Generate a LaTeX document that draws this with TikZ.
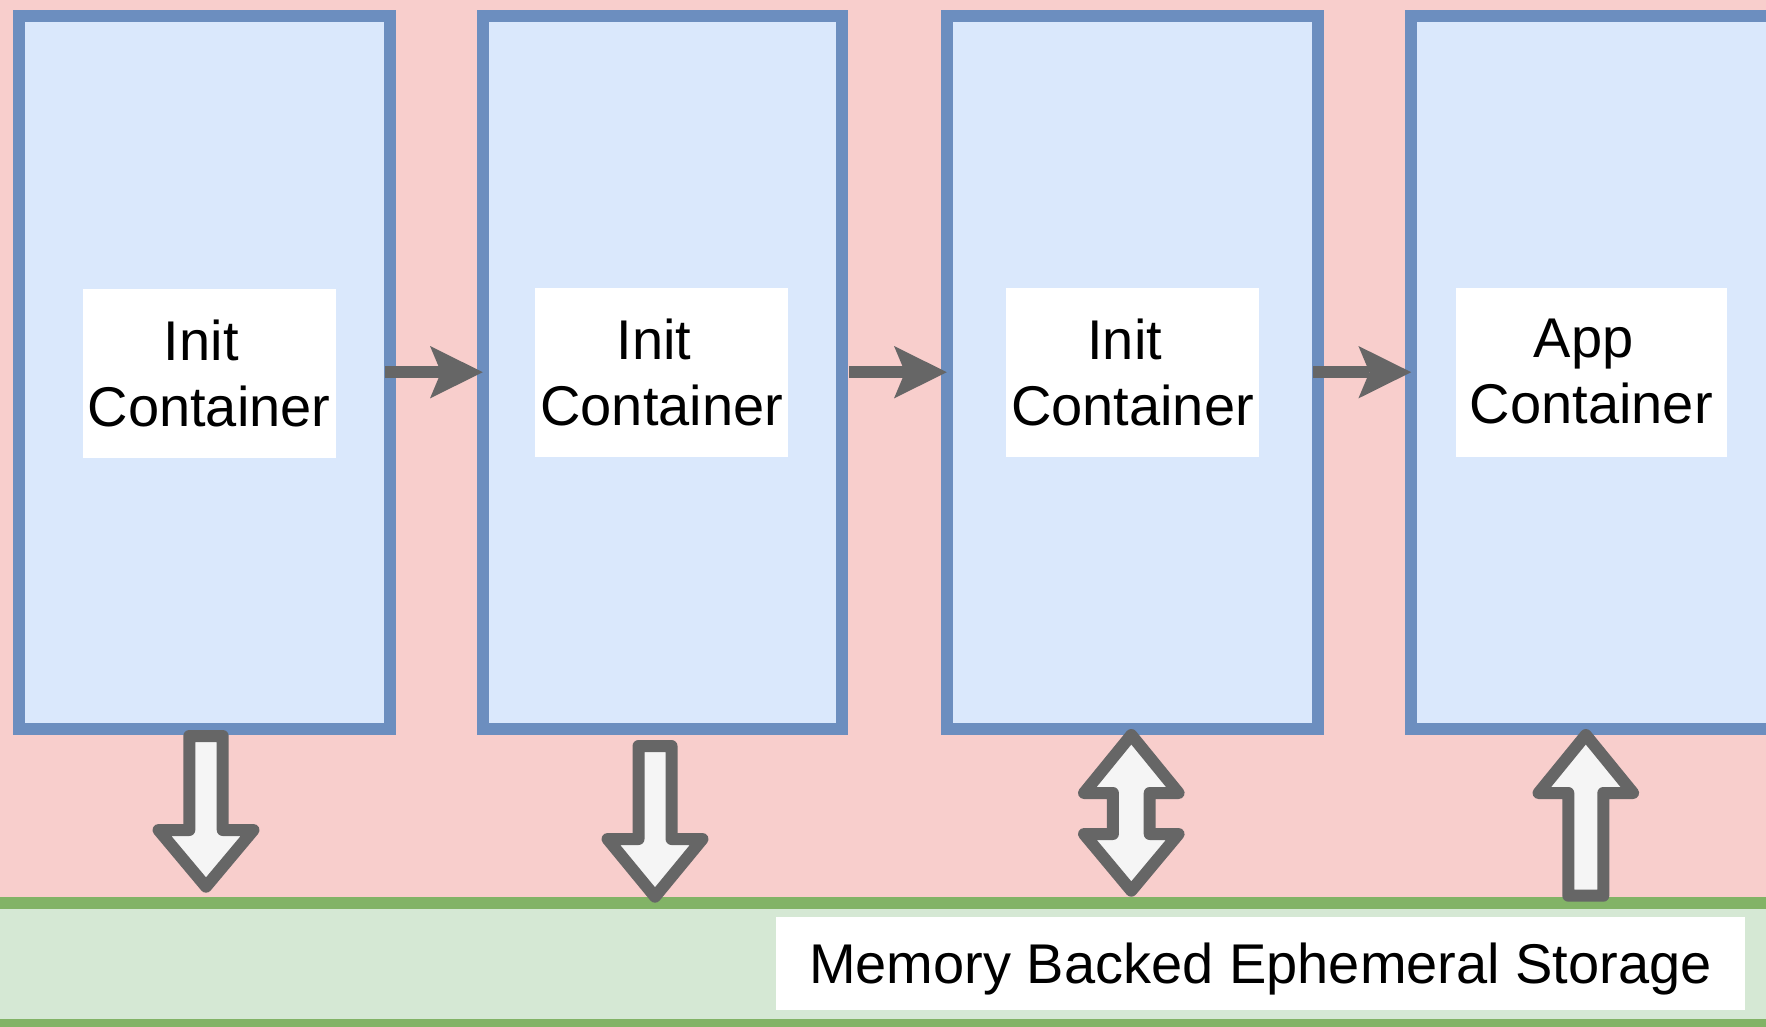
\documentclass[tikz,border=0pt]{standalone}
\usepackage{fontspec}
\setmainfont{Liberation Sans}
\usetikzlibrary{arrows.meta}
\definecolor{podbg}{HTML}{F8CECC}
\definecolor{boxfill}{HTML}{DAE8FC}
\definecolor{boxline}{HTML}{6C8EBF}
\definecolor{storefill}{HTML}{D5E8D4}
\definecolor{storeline}{HTML}{82B366}
\definecolor{arrowline}{HTML}{666666}
\definecolor{arrowfill}{HTML}{F5F5F5}
\begin{document}
\begin{tikzpicture}[x=0.5pt,y=-0.5pt,
  container/.style={draw=boxline, fill=boxfill, line width=6pt,
    minimum width=185.5pt, minimum height=356.6pt, inner sep=0pt, outer sep=0pt},
  namebox/.style={fill=white, inner sep=0pt, minimum width=126.5pt,
    minimum height=84.5pt, align=center, font=\fontsize{28pt}{33pt}\selectfont},
  flow/.style={draw=arrowline, line width=5.85pt,
    -{Stealth[length=26.4pt,width=26.2pt,inset=5.5pt,line width=0pt]}},
  blockarrow/.style={draw=arrowline, fill=arrowfill, line width=6pt, line join=round},
  storagebar/.style={draw=storeline, fill=storefill, line width=6pt,
    inner sep=0pt, outer sep=0pt},
]
\useasboundingbox (0,0) rectangle (1766,1027);
\clip (0,0) rectangle (1766,1027);

% pod background
\fill[podbg] (0,0) rectangle (1766,1027);

% containers, run left to right
\node[container] (c1) at (204.3,372.2) {};
\node[container, minimum width=179.7pt] (c2) at (662.5,372.2) {};
\node[container] (c3) at (1132.3,372.2) {};
\node[container] (c4) at (1596.7,372.2) {};

\node[namebox] (l1) at (209,373.5) {Init\kern0.278em\\Container};
\node[namebox] (l2) at (661.7,372.8) {Init\kern0.278em\\Container};
\node[namebox] (l3) at (1132.5,372.8) {Init\kern0.278em\\Container};
\node[namebox, minimum width=135.35pt] (l4) at (1591.3,372) {App\kern0.278em\\Container};

% start order
\draw[flow, shorten <=-2.4pt] (c1.east) -- (c2.west);
\draw[flow, shorten <=3.4pt] (c2.east) -- (c3.west);
\draw[flow, shorten <=-2.4pt] (c3.east) -- (c4.west);

% shared storage
\node[storagebar, minimum width=903pt, minimum height=61pt] (store) at (883,963.5) {};
\node[fill=white, inner sep=0pt, minimum width=484.5pt, minimum height=46.65pt,
  text height=20pt, text depth=0pt,
  font=\fontsize{28pt}{33pt}\selectfont] (storelabel) at (1260.5,963.3)
  {Memory Backed Ephemeral Storage};

% data flow between containers and storage
\draw[blockarrow] (189.3,736) -- (222.7,736) -- (222.7,830) -- (253.5,830)
  -- (206,886.7) -- (158.5,830) -- (189.3,830) -- cycle;
\draw[blockarrow] (638.5,746) -- (671.5,746) -- (671.5,839) -- (702.5,839)
  -- (655,896.7) -- (607.5,839) -- (638.5,839) -- cycle;
\draw[blockarrow] (1131.3,735) -- (1178.6,793) -- (1149.7,793) -- (1149.7,834)
  -- (1178.6,834) -- (1131.3,890.7) -- (1084,834) -- (1112.9,834)
  -- (1112.9,793) -- (1084,793) -- cycle;
\draw[blockarrow] (1585.8,735) -- (1633.1,793) -- (1603.3,793) -- (1603.3,895.7)
  -- (1568.3,895.7) -- (1568.3,793) -- (1538.5,793) -- cycle;
\end{tikzpicture}
\end{document}
